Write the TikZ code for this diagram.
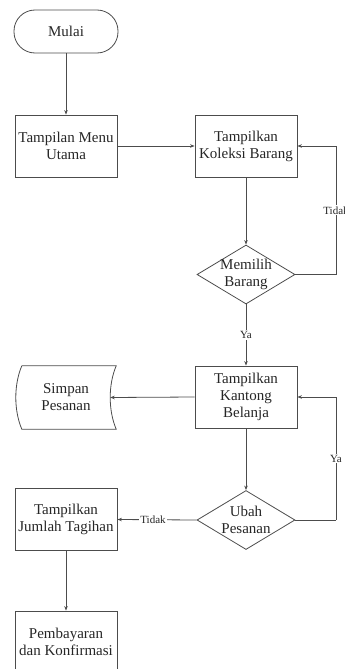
\documentclass[tikz,border=0pt]{standalone}
\usepackage{fontspec}
\setmainfont{Liberation Serif}
\usetikzlibrary{shapes.geometric,arrows.meta}

\begin{document}
\begin{tikzpicture}[x=1pt,y=-1pt,
  every node/.style={font=\fontsize{15}{17}\selectfont, text=black!85},
  line/.style={draw=black!70, line width=0.8pt},
  flow/.style={line, -{Stealth[length=4.5pt,width=3.5pt]}},
  proc/.style={line, rectangle, minimum width=102pt, minimum height=62pt,
    inner sep=0pt, align=center},
  term/.style={line, rectangle, rounded corners=21pt, minimum width=104pt,
    minimum height=43pt, inner sep=0pt},
  decide/.style={line, diamond, minimum width=98pt, minimum height=59pt,
    inner sep=0pt},
  store/.style={minimum width=100pt, minimum height=63pt, inner sep=0pt,
    align=center},
  tag/.style={fill=white, inner sep=1pt, font=\fontsize{11}{13}\selectfont}
]
\useasboundingbox (0,0) rectangle (345,669);

% process steps
\node[term] (mulai) at (66,31.5) {Mulai};
\node[proc] (menu) at (66,146) {Tampilan Menu\\Utama};
\node[proc] (koleksi) at (246,146) {Tampilkan\\Koleksi Barang};
\node[decide, label={[align=center]center:Memilih\\Barang}] (memilih) at (246,274.5) {};
\node[proc] (kantong) at (246,397) {Tampilkan\\Kantong\\Belanja};
\node[store] (simpan) at (66,397.5) {Simpan\\Pesanan};
\node[decide, label={[align=center]center:Ubah\\Pesanan}] (ubah) at (246,520) {};
\node[proc] (tagihan) at (66,519.5) {Tampilkan\\Jumlah Tagihan};
\node[proc] (bayar) at (66,642) {Pembayaran\\dan Konfirmasi};

% stored-data outline around the simpan node
\draw[line] ([xshift=6pt]simpan.north west) -- (simpan.north east)
  .. controls ([xshift=-8pt,yshift=-19pt]simpan.north east)
  and ([xshift=-8pt,yshift=19pt]simpan.south east) .. (simpan.south east)
  -- ([xshift=6pt]simpan.south west)
  .. controls ([xshift=-2pt,yshift=19pt]simpan.south west)
  and ([xshift=-2pt,yshift=-19pt]simpan.north west) .. ([xshift=6pt]simpan.north west);

% loop turning points
\coordinate (tidakR) at (336,274.5);
\coordinate (tidakT) at (336,146);
\coordinate (yaR) at (336,520);
\coordinate (yaT) at (336,397);

% connectors
\draw[flow] (mulai) -- (menu);
\draw[flow] (menu) -- (koleksi);
\draw[flow] (koleksi) -- (memilih);
\draw[line] (memilih.east) -- (tidakR);
\draw[flow] (tidakR) -- node[tag, pos=0.5] {Tidak} (tidakT) -- (koleksi.east);
\draw[flow] (memilih) -- node[tag] {Ya} (kantong);
\draw[flow] (kantong.west) -- ([xshift=-6pt]simpan.east);
\draw[flow] (kantong) -- (ubah);
\draw[line] (ubah.east) -- (yaR);
\draw[flow] (yaR) -- node[tag, pos=0.5] {Ya} (yaT) -- (kantong.east);
\draw[flow] (ubah.west) -- node[tag, pos=0.55] {Tidak} (tagihan.east);
\draw[flow] (tagihan) -- (bayar);
\end{tikzpicture}
\end{document}
